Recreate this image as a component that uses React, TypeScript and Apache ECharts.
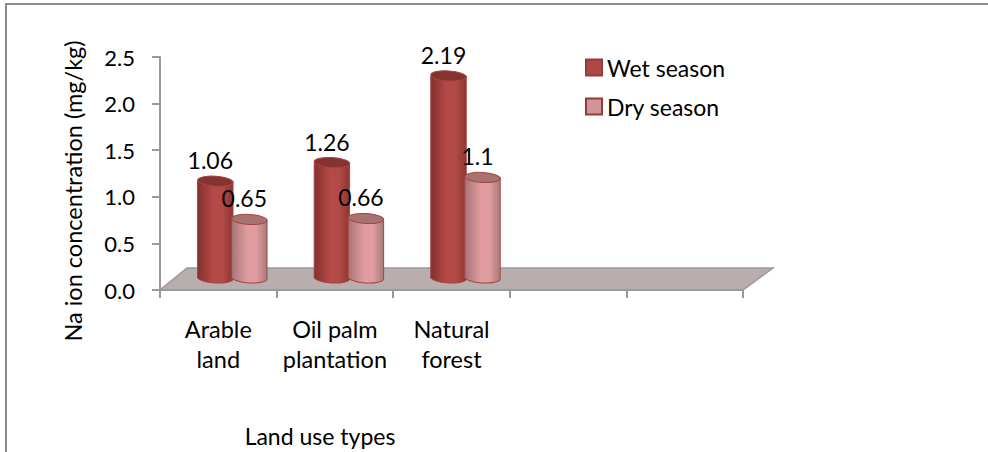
import React, { useEffect, useRef } from "react";
import * as echarts from "echarts";

const categories = ["Arable\nland", "Oil palm\nplantation", "Natural\nforest", "", ""];
const wetSeason = [1.06, 1.26, 2.19];
const drySeason = [0.65, 0.66, 1.1];
const yTicks = { min: 0, max: 2.5, interval: 0.5 };
const yTitle = "Na ion concentration (mg/kg)";
const xTitle = "Land use types";
const FONT = "Lato";

const cylinder = (opts: {
  offset: number;
  side: string;
  mid: string;
  edge: string;
  top: string;
  line: string;
}) => (params: any, api: any) => {
  const i = api.value(0);
  const v = api.value(1);
  const base = api.coord([i, 0]);
  const tip = api.coord([i, v]);
  const slot = api.size([1, 0])[0];
  const rx = slot * 0.152;
  const ry = 5;
  const cx = base[0] + opts.offset;
  const by = base[1] - 12;
  const ty = tip[1] - 10;
  const tilt = -0.06;
  const fill = new echarts.graphic.LinearGradient(0, 0, 1, 0, [
    { offset: 0, color: opts.side },
    { offset: 0.45, color: opts.mid },
    { offset: 0.7, color: opts.mid },
    { offset: 1, color: opts.edge },
  ]);
  return {
    type: "group",
    children: [
      {
        type: "ellipse",
        x: cx,
        y: by,
        rotation: tilt,
        shape: { cx: 0, cy: 0, rx, ry },
        style: { fill, stroke: opts.line, lineWidth: 1 },
      },
      {
        type: "rect",
        shape: { x: cx - rx, y: ty, width: rx * 2, height: by - ty },
        style: { fill },
      },
      {
        type: "line",
        shape: { x1: cx - rx, y1: ty, x2: cx - rx, y2: by },
        style: { stroke: opts.line, lineWidth: 1 },
      },
      {
        type: "line",
        shape: { x1: cx + rx, y1: ty, x2: cx + rx, y2: by },
        style: { stroke: opts.line, lineWidth: 1 },
      },
      {
        type: "ellipse",
        x: cx,
        y: ty,
        rotation: tilt,
        shape: { cx: 0, cy: 0, rx, ry },
        style: { fill: opts.top, stroke: opts.line, lineWidth: 1 },
      },
      {
        type: "text",
        x: cx - 5,
        y: ty - 21,
        style: {
          text: String(v),
          fill: "#000",
          font: `23px ${FONT}`,
          textAlign: "center",
          textVerticalAlign: "middle",
        },
      },
    ],
  };
};

export default function App() {
  const ref = useRef<HTMLDivElement>(null);
  useEffect(() => {
    const chart = echarts.init(ref.current!, undefined, { renderer: "svg" });
    chart.setOption({
      animation: false,
      backgroundColor: "#fff",
      grid: { left: 160, top: 57, width: 583, height: 233, containLabel: false },
      legend: {
        left: 580,
        top: 51,
        orient: "vertical",
        itemWidth: 16,
        itemHeight: 16,
        itemGap: 16,
        icon: "rect",
        textStyle: { fontFamily: FONT, fontSize: 23, color: "#000", padding: [0, 0, 0, 0] },
        data: ["Wet season", "Dry season"],
      },
      xAxis: {
        type: "category",
        data: categories,
        axisLine: { lineStyle: { color: "#999", width: 2 } },
        axisTick: { show: true, alignWithLabel: false, length: 8, lineStyle: { color: "#999", width: 2 } },
        axisLabel: {
          interval: 0,
          color: "#000",
          fontFamily: FONT,
          fontSize: 23.5,
          lineHeight: 30,
          margin: 24,
        },
        splitLine: { show: false },
      },
      yAxis: {
        type: "value",
        ...yTicks,
        axisLine: { show: true, lineStyle: { color: "#999", width: 2 } },
        axisTick: { show: true, length: 8, lineStyle: { color: "#999", width: 2 } },
        axisLabel: {
          color: "#000",
          fontFamily: FONT,
          fontSize: 22,
          margin: 25,
          formatter: (v: number) => v.toFixed(1),
        },
        splitLine: { show: false },
      },
      graphic: [
        {
          type: "polyline",
          z: 0,
          shape: { points: [[6, 452], [6, 4], [988, 4]] },
          style: { stroke: "#8c8c8c", lineWidth: 2, fill: "none" },
        },
        {
          type: "polygon",
          z: 0,
          shape: { points: [[160, 290], [743, 290], [773, 268], [187, 268]] },
          style: { fill: "#b8aeae", stroke: "#999", lineWidth: 1.5 },
        },
        {
          type: "text",
          x: 73,
          y: 191,
          rotation: Math.PI / 2,
          style: {
            text: yTitle,
            fill: "#000",
            font: `23.5px ${FONT}`,
            textAlign: "center",
            textVerticalAlign: "middle",
          },
        },
        {
          type: "text",
          x: 320,
          y: 436,
          style: {
            text: xTitle,
            fill: "#000",
            font: `23px ${FONT}`,
            textAlign: "center",
            textVerticalAlign: "middle",
          },
        },
      ],
      series: [
        {
          name: "Wet season",
          type: "custom",
          z: 3,
          itemStyle: { color: "#ae4745", borderColor: "#963b39", borderWidth: 1 },
          encode: { x: 0, y: 1 },
          data: wetSeason.map((v, i) => [i, v]),
          renderItem: cylinder({
            offset: -3,
            side: "#84302e",
            mid: "#b34a47",
            edge: "#8e3533",
            top: "#85332f",
            line: "#a54543",
          }),
        },
        {
          name: "Dry season",
          type: "custom",
          z: 4,
          itemStyle: { color: "#d09596", borderColor: "#963b39", borderWidth: 2 },
          encode: { x: 0, y: 1 },
          data: drySeason.map((v, i) => [i, v]),
          renderItem: cylinder({
            offset: 31,
            side: "#a67475",
            mid: "#e09c9e",
            edge: "#a87a7a",
            top: "#a87270",
            line: "#a54543",
          }),
        },
      ],
    });
    return () => chart.dispose();
  }, []);
  return (
    <div
      ref={ref}
      style={{ position: "fixed", left: 0, top: 0, width: 988, height: 452 }}
    />
  );
}
